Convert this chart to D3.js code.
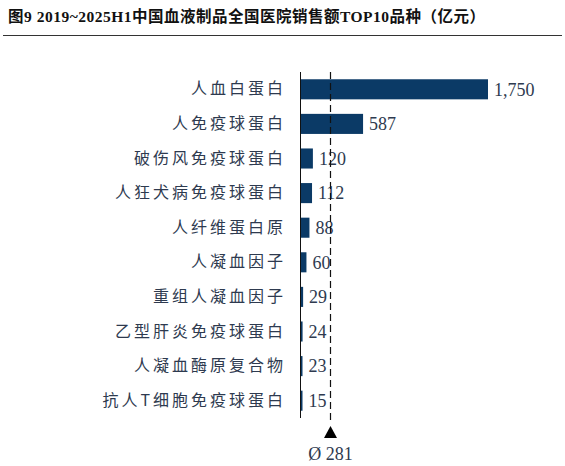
<!DOCTYPE html>
<html>
<head>
<meta charset="utf-8">
<script src="https://cdn.jsdelivr.net/npm/d3@7"></script>
<style>
	body { margin: 0; background: #fff; }
	svg { display: block; }
</style>
</head>
<body>
<div id="svg-container"></div>
<script>
// DATA
const TITLE = '图9 2019~2025H1中国血液制品全国医院销售额TOP10品种（亿元）';
const CATEGORIES = ['人血白蛋白', '人免疫球蛋白', '破伤风免疫球蛋白', '人狂犬病免疫球蛋白', '人纤维蛋白原',
	'人凝血因子', '重组人凝血因子', '乙型肝炎免疫球蛋白', '人凝血酶原复合物', '抗人T细胞免疫球蛋白'];
const VALUES = [1750, 587, 120, 112, 88, 60, 29, 24, 23, 15];
const AVERAGE = 281;


function visualizeData(height = 466, width = 565) {
	const h = height;
	const w = width;
	const barColor = '#0b3a66';
	const textColor = '#2e3a4f';

	const svg = d3.select('#svg-container').append('svg')
		.attr('height', h)
		.attr('width', w);

	// title + rule
	svg.append('text')
		.attr('x', 8)
		.attr('y', 22)
		.attr('font-family', '"Liberation Serif", "Noto Sans CJK SC", serif')
		.attr('font-weight', 'bold')
		.attr('font-size', 15.5)
		.attr('letter-spacing', 0.5)
		.attr('fill', '#111')
		.text(TITLE);
	svg.append('line')
		.attr('x1', 3).attr('x2', 562)
		.attr('y1', 35.5).attr('y2', 35.5)
		.attr('stroke', '#333')
		.attr('stroke-width', 1);

	// scales
	const xScale = d3.scaleLinear()
		.domain([0, d3.max(VALUES)])
		.range([300, 488]);
	const yScale = d3.scaleBand()
		.domain(CATEGORIES)
		.range([72, 418])
		.paddingInner(0.42)
		.paddingOuter(0.21);

	// bars
	const rows = CATEGORIES.map((c, i) => ({ name: c, value: VALUES[i] }));
	svg.selectAll('rect.bar')
		.data(rows)
		.enter()
		.append('rect')
		.attr('class', 'bar')
		.attr('x', xScale(0))
		.attr('y', d => yScale(d.name))
		.attr('width', d => Math.max(xScale(d.value) - xScale(0), 2.5))
		.attr('height', yScale.bandwidth())
		.attr('fill', barColor);

	// value labels
	svg.selectAll('text.val')
		.data(rows)
		.enter()
		.append('text')
		.attr('class', 'val')
		.attr('x', d => Math.max(xScale(d.value), xScale(0) + 2.5) + 6)
		.attr('y', d => yScale(d.name) + yScale.bandwidth() / 2)
		.attr('dy', '0.35em')
		.attr('font-family', '"Liberation Serif", serif')
		.attr('font-size', 18)
		.attr('fill', textColor)
		.text(d => d3.format(',')(d.value));

	// category axis
	const yAxis = d3.axisLeft(yScale).tickSize(0).tickPadding(0);
	const gy = svg.append('g')
		.attr('transform', `translate(${xScale(0)}, 0)`)
		.call(yAxis);
	gy.select('.domain').remove();
	gy.selectAll('text')
		.attr('x', -14)
		.attr('font-family', '"Noto Sans CJK SC", "Liberation Serif", serif')
		.attr('font-size', 16)
		.attr('letter-spacing', 3)
		.attr('fill', textColor);
	svg.append('line')
		.attr('x1', xScale(0) + 0.5).attr('x2', xScale(0) + 0.5)
		.attr('y1', 72).attr('y2', 418)
		.attr('stroke', '#111')
		.attr('stroke-width', 1);

	// average marker
	const ax = Math.round(xScale(AVERAGE)) + 0.5;
	svg.append('line')
		.attr('x1', ax).attr('x2', ax)
		.attr('y1', 72).attr('y2', 420)
		.attr('stroke', '#111')
		.attr('stroke-width', 1.2)
		.attr('stroke-dasharray', '7,4');
	svg.append('path')
		.attr('d', `M${ax},426 L${ax + 6.5},438 L${ax - 6.5},438 Z`)
		.attr('fill', '#000');
	svg.append('text')
		.attr('x', ax)
		.attr('y', 460)
		.attr('text-anchor', 'middle')
		.attr('font-family', '"Liberation Serif", serif')
		.attr('font-size', 18)
		.attr('fill', textColor)
		.text('Ø ' + AVERAGE);
}


document.addEventListener('DOMContentLoaded', () => {
	visualizeData();
});
</script>
</body>
</html>
